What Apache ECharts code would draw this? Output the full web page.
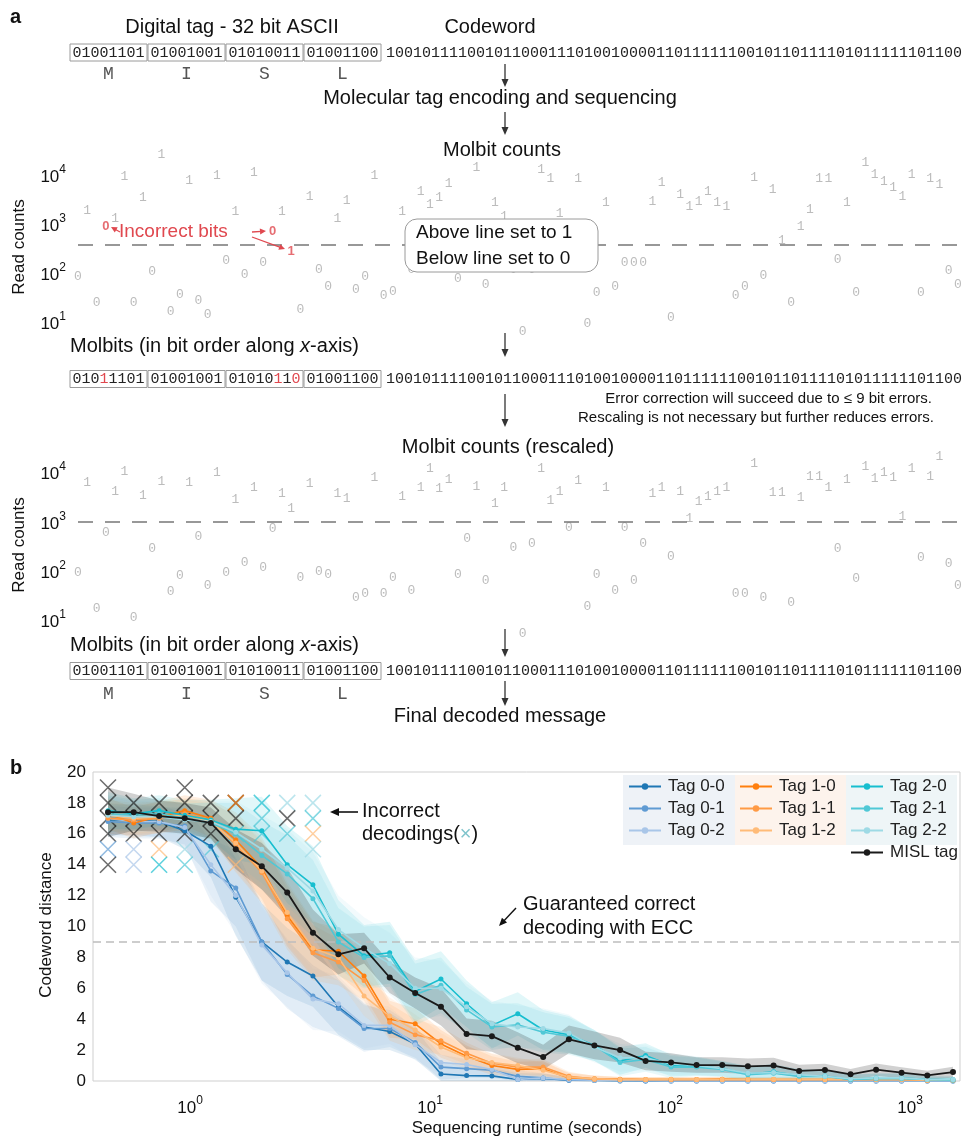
<!DOCTYPE html>
<html><head><meta charset="utf-8">
<script src="https://cdn.jsdelivr.net/npm/echarts@6/dist/echarts.min.js"></script>
<style>html,body{margin:0;padding:0;background:#fff}#c{width:967px;height:1138px}</style>
</head><body><div id="c"></div><script>
// ---------------- DATA ----------------
const tagBytes = ['01001101','01001001','01010011','01001100'];
const tagLetters = ['M','I','S','L'];
const codewordBits = '1001011110010110001110100100001101111110010110111101011111101100';
const threshold1 = 375;
const threshold2 = 1000;
const rawCounts = [83,1840,25,910,1320,9100,25,3400,105,25700,16,37,7550,28,14,9550,
  176,1760,91,11000,167,690,1760,270,18,3550,120,54,1320,2950,47,83,
  9550,34,41,1760,115,4500,2450,3400,6560,76,340,13900,57,2700,1390,115,
  6.3,115,12700,8280,1670,270,8280,9.5,39,2700,54,167,167,167,2820,6880,
  12.6,3900,2230,2820,4500,2700,2230,34,54,8700,87,5150,470,25,870,1930,
  8280,8280,185,2700,39,17600,10000,7200,5430,3550,10000,39,8280,6250,110,57];
const rescaledCounts = [93,6030,17,600,4070,10000,11,3390,275,6310,37,78,6030,480,51,9550,
  93,2820,148,4790,117,720,3720,1780,74,5750,98,85,3720,2950,28,34,
  7590,34,71,3240,39,4790,11500,4570,6920,85,440,5010,62,2240,4790,300,
  5.4,350,12000,2690,4070,760,6610,19,85,4790,39,760,62,350,3720,4790,
  190,4070,1120,2570,3240,4070,4790,34,35,14500,28,3890,3890,23,3090,7940,
  7940,4790,275,6920,68,12600,7240,9550,7590,1230,12000,182,7940,20900,141,49];

const runtime = [0.455,0.582,0.743,0.95,1.22,1.55,1.99,2.54,3.25,4.15,5.31,6.79,8.67,11.1,14.2,18.1,
  23.2,29.6,37.9,48.4,61.9,79.1,101,129,165,211,270,345,442,565,722,922,1180,1510];
const tagNames = ['Tag 0-0','Tag 0-1','Tag 0-2','Tag 1-0','Tag 1-1','Tag 1-2','Tag 2-0','Tag 2-1','Tag 2-2','MISL tag'];
const tag00 = [16.9,16.9,16.8,16.2,15.2,11.9,9.0,7.7,6.8,4.8,3.5,3.2,2.4,0.45,0.35,0.33,0.1,0.17,0.05,0.03,0,0,0,0,0,0,0,0,0,0,0,0,0,0];
const tag01 = [16.8,16.7,16.7,16.5,13.6,12.5,9.0,6.9,5.5,4.7,3.4,3.4,2.5,0.9,0.8,0.7,0.3,0.2,0.05,0.05,0.03,0,0,0,0,0,0,0,0,0,0,0,0,0];
const tag02 = [17.0,16.8,16.8,16.4,14.0,12.0,8.8,7.0,5.3,5.0,3.6,3.6,2.35,1.2,1.07,0.75,0.1,0.2,0.1,0.05,0.03,0.03,0,0,0,0,0,0,0,0,0,0,0,0];
const tag10 = [17.3,16.7,17.1,17.5,17.0,15.6,13.8,10.7,8.5,8.4,6.8,4.0,3.7,2.4,1.6,1.0,0.75,0.8,0.2,0.15,0.12,0.1,0.1,0.1,0.12,0.1,0.1,0.1,0.1,0.1,0.1,0.1,0.05,0.05];
const tag11 = [17.0,16.9,17.0,17.3,16.9,15.3,13.5,10.5,8.3,7.7,6.5,3.8,3.0,2.6,1.8,1.15,0.9,0.9,0.3,0.12,0.1,0.1,0.1,0.1,0.1,0.1,0.1,0.1,0.1,0.1,0.1,0.1,0.05,0.05];
const tag12 = [17.2,17.0,17.1,17.2,16.8,15.4,13.6,10.9,8.6,8.0,5.5,4.2,3.3,2.2,1.5,1.2,1.0,0.7,0.25,0.15,0.1,0.1,0.12,0.1,0.1,0.1,0.12,0.1,0.1,0.1,0.1,0.1,0.05,0.05];
const tag20 = [17.5,17.3,17.5,17.2,16.9,16.3,16.2,14.0,12.7,9.5,8.1,8.3,5.8,6.6,5.0,3.6,4.35,3.3,3.0,2.3,1.3,1.65,1.0,0.96,0.8,0.45,0.6,0.36,0.32,0.1,0.2,0.2,0.1,0.1];
const tag21 = [17.3,17.2,17.3,17.0,16.7,16.0,14.6,13.4,11.8,9.0,8.0,8.1,5.6,6.2,4.6,3.5,3.64,3.15,2.9,2.3,1.2,1.4,0.9,0.9,0.75,0.4,0.5,0.3,0.3,0.1,0.15,0.15,0.1,0.05];
const tag22 = [17.2,17.1,17.1,16.9,16.8,16.1,15.0,13.8,12.3,9.8,8.6,7.6,6.0,6.0,4.8,3.7,3.5,3.4,3.1,2.2,1.5,1.5,1.1,1.0,0.8,0.5,0.55,0.4,0.3,0.15,0.2,0.2,0.1,0.1];
const mislTag = [17.4,17.4,17.15,17.0,16.7,15.0,13.9,12.2,9.6,8.2,8.6,6.7,5.7,4.8,3.05,2.9,2.15,1.55,2.7,2.3,2.0,1.3,1.2,1.03,1.03,0.95,1.0,0.65,0.72,0.43,0.73,0.54,0.36,0.58];
const spreadBlue = [1.0,1.0,1.0,1.2,2.0,2.5,2.5,2.2,2.0,1.8,1.5,1.2,1.0,0.8,0.6,0.5,0.4,0.3,0.2,0.15,0.1,0.1,0.1,0.1,0.1,0.1,0.1,0.1,0.1,0.1,0.1,0.1,0.1,0.1];
const spreadOrange = [1.0,1.0,1.0,1.0,1.2,1.8,2.0,2.0,1.8,1.5,1.3,1.2,1.0,0.9,0.7,0.6,0.5,0.5,0.3,0.2,0.15,0.15,0.15,0.15,0.15,0.15,0.15,0.15,0.15,0.15,0.15,0.15,0.1,0.1];
const spreadCyan = [1.2,1.0,1.0,1.0,1.3,2.0,2.2,2.5,2.5,2.2,2.0,2.0,2.0,1.8,1.5,1.5,1.4,1.3,1.2,1.0,0.9,0.8,0.7,0.6,0.5,0.5,0.5,0.4,0.4,0.3,0.3,0.3,0.2,0.2];
const spreadBlack = [1.6,1.2,1.0,1.0,1.0,1.3,1.5,1.6,1.5,1.3,1.0,1.0,1.0,1.2,1.0,1.0,1.0,0.8,0.9,0.9,0.8,0.6,0.6,0.5,0.5,0.5,0.5,0.4,0.4,0.35,0.4,0.35,0.3,0.35];
// incorrect decodings: runtime index, codeword distance, tag
const wrongRunIdx = [0,0,0,0,0,0, 1,1,1,1,1, 2,2,2,2,2, 3,3,3,3,3,3, 4,4,4,4, 5,5,5,5,5, 6,6,6, 7,7,7, 8,8,8,8];
const wrongDist   = [19,18,17,16,15,14, 18,17,16,15,14, 18,17,16,15,14, 19,18,17,16,15,14, 18,17,16,15, 18,18,17,16,14, 18,17,16, 18,17,16, 18,17,16,15];
const wrongTag = ['MISL tag','MISL tag','MISL tag','MISL tag','Tag 0-1','MISL tag',
  'MISL tag','MISL tag','MISL tag','Tag 0-2','Tag 0-2',
  'MISL tag','MISL tag','MISL tag','Tag 1-2','Tag 2-0',
  'MISL tag','MISL tag','MISL tag','MISL tag','Tag 2-2','Tag 2-1',
  'MISL tag','MISL tag','MISL tag','Tag 2-1',
  'MISL tag','Tag 1-0','MISL tag','Tag 2-1','Tag 1-2',
  'Tag 2-0','Tag 2-1','Tag 2-1',
  'Tag 2-2','MISL tag','Tag 2-1',
  'Tag 2-2','Tag 2-1','Tag 1-2','Tag 2-2'];

// ---------------- STYLE ----------------
const SANS = 'Liberation Sans';
const MONO = 'Liberation Mono';
const RED = '#e0484f';
const colors = {'Tag 0-0':'#1f77b4','Tag 0-1':'#5f9bd3','Tag 0-2':'#a9c6e8','Tag 1-0':'#ff7f0e','Tag 1-1':'#ff9a45','Tag 1-2':'#ffbb78',
  'Tag 2-0':'#17becf','Tag 2-1':'#4fc8d6','Tag 2-2':'#9edae5','MISL tag':'#1a1a1a'};
const seriesVals = [tag00,tag01,tag02,tag10,tag11,tag12,tag20,tag21,tag22,mislTag];
const spreads = [spreadBlue,spreadBlue,spreadBlue,spreadOrange,spreadOrange,spreadOrange,spreadCyan,spreadCyan,spreadCyan,spreadBlack];

const allBits = tagBytes.join('') + codewordBits;
const readBits = rawCounts.map(c => c >= threshold1 ? '1' : '0');

// ---------------- GRAPHIC HELPERS ----------------
const G = [];
function T(x, y, text, o) {
  o = o || {};
  const st = Object.assign({text: text, fontSize: 19, fontFamily: SANS, fill: '#111',
    textAlign: 'left', align: 'left', textVerticalAlign: 'middle', verticalAlign: 'middle'}, o.style || {});
  if (o.align) { st.textAlign = o.align; st.align = o.align; }
  const el = {type: 'text', x: x, y: y, style: st, z: 50};
  if (o.rotation) el.rotation = o.rotation;
  G.push(el);
}
function arrow(x1, y1, x2, y2, color, h, w, lw) {
  color = color || '#333'; h = h || 8; w = w || 3.5; lw = lw || 1.3;
  const a = Math.atan2(y2 - y1, x2 - x1), c = Math.cos(a), s = Math.sin(a);
  G.push({type: 'line', z: 50, shape: {x1: x1, y1: y1, x2: x2 - c * h * 0.7, y2: y2 - s * h * 0.7}, style: {stroke: color, lineWidth: lw}});
  G.push({type: 'polygon', z: 50, shape: {points: [[x2, y2], [x2 - h * c + w * s, y2 - h * s - w * c], [x2 - h * c - w * s, y2 - h * s + w * c]]}, style: {fill: color}});
}
const boxX = [70, 148, 226, 304], boxW = 77, boxH = 17;
function codeRow(cy, bytesRich) {
  for (let b = 0; b < 4; b++) {
    G.push({type: 'rect', z: 50, shape: {x: boxX[b], y: cy - boxH / 2, width: boxW, height: boxH},
      style: {fill: '#fff', stroke: '#9a9a9a', lineWidth: 1}});
    G.push({type: 'text', z: 51, x: boxX[b] + boxW / 2, y: cy + 0.5, style: {text: bytesRich[b], fontSize: 15, fontFamily: MONO,
      fill: '#222', textAlign: 'center', align: 'center', textVerticalAlign: 'middle', verticalAlign: 'middle',
      rich: {k: {fill: '#222', color: '#222', fontSize: 15, fontFamily: MONO}, r: {fill: RED, color: RED, fontSize: 15, fontFamily: MONO}}}});
  }
  T(386, cy + 0.5, codewordBits, {style: {fontSize: 15, fontFamily: MONO, fill: '#222'}});
}
function letters(cy) {
  for (let b = 0; b < 4; b++) T(boxX[b] + boxW / 2, cy, tagLetters[b], {align: 'center', style: {fontSize: 18, fontFamily: MONO, fill: '#555'}});
}
function richByte(bits, ref) {
  let s = '';
  for (let i = 0; i < bits.length; i++) s += (ref && bits[i] !== ref[i] ? '{r|' : '{k|') + bits[i] + '}';
  return s;
}

// ---- panel a texts ----
T(10, 17, 'a', {style: {fontSize: 20, fontWeight: 'bold'}});
T(232, 27, 'Digital tag - 32 bit ASCII', {align: 'center', style: {fontSize: 20}});
T(490, 27, 'Codeword', {align: 'center', style: {fontSize: 20}});
codeRow(52.5, tagBytes.map(b => richByte(b)));
letters(74);
arrow(505, 64, 505, 87, '#333', 8, 3.5);
T(500, 98, 'Molecular tag encoding and sequencing', {align: 'center', style: {fontSize: 20}});
arrow(505, 112, 505, 135, '#333', 8, 3.5);
T(502, 150, 'Molbit counts', {align: 'center', style: {fontSize: 20}});
T(19, 247, 'Read counts', {align: 'center', rotation: Math.PI / 2, style: {fontSize: 17}});
// red annotation
T(119, 232, 'Incorrect bits', {style: {fontSize: 19, fill: RED}});
arrow(120, 232, 111, 227, RED, 6, 3, 1.3);
arrow(252, 232, 266, 231, RED, 6, 3, 1.3);
arrow(252, 237, 285, 249, RED, 6, 3, 1.3);
G.push({type: 'rect', z: 49, shape: {x: 405, y: 219, width: 193, height: 53, r: 12}, style: {fill: '#fff', stroke: '#9a9a9a', lineWidth: 1}});
T(416, 233, 'Above line set to 1', {style: {fontSize: 19}});
T(416, 259, 'Below line set to 0', {style: {fontSize: 19}});
const molbitsRich = {n: {fontSize: 20, fontFamily: SANS, fill: '#111', color: '#111'}, i: {fontSize: 20, fontFamily: SANS, fontStyle: 'italic', fill: '#111', color: '#111'}};
T(70, 346, '{n|Molbits (in bit order along }{i|x}{n|-axis)}', {style: {rich: molbitsRich}});
arrow(505, 333, 505, 357, '#333', 8, 3.5);
const readStr = readBits.join('');
codeRow(379, [0, 1, 2, 3].map(b => richByte(readStr.substr(b * 8, 8), tagBytes[b])));
T(932, 399, 'Error correction will succeed due to \u2264 9 bit errors.', {align: 'right', style: {fontSize: 15}});
T(934, 418, 'Rescaling is not necessary but further reduces errors.', {align: 'right', style: {fontSize: 15}});
arrow(505, 394, 505, 427, '#333', 8, 3.5);
T(508, 447, 'Molbit counts (rescaled)', {align: 'center', style: {fontSize: 20}});
T(19, 545, 'Read counts', {align: 'center', rotation: Math.PI / 2, style: {fontSize: 17}});
T(70, 645, '{n|Molbits (in bit order along }{i|x}{n|-axis)}', {style: {rich: molbitsRich}});
arrow(505, 629, 505, 657, '#333', 8, 3.5);
codeRow(671, tagBytes.map(b => richByte(b)));
letters(694);
arrow(505, 681, 505, 706, '#333', 8, 3.5);
T(500, 716, 'Final decoded message', {align: 'center', style: {fontSize: 20}});

// ---- panel b texts ----
T(10, 768, 'b', {style: {fontSize: 20, fontWeight: 'bold'}});
T(46, 925, 'Codeword distance', {align: 'center', rotation: Math.PI / 2, style: {fontSize: 17}});
T(527, 1128, 'Sequencing runtime (seconds)', {align: 'center', style: {fontSize: 17}});
T(362, 811, 'Incorrect', {style: {fontSize: 20}});
T(362, 834, '{n|decodings(}{x|\u00d7}{n|)}', {style: {rich: {n: {fontSize: 20, fontFamily: SANS, fill: '#111', color: '#111'}, x: {fontSize: 20, fontFamily: SANS, fill: '#7fc4cc', color: '#7fc4cc'}}}});
arrow(358, 812, 330, 812, '#111', 9, 4, 1.6);
T(523, 904, 'Guaranteed correct', {style: {fontSize: 20}});
T(523, 928, 'decoding with ECC', {style: {fontSize: 20}});
arrow(516, 908, 499, 926, '#111', 8, 3.5, 1.4);
// legend tints
G.push({type: 'rect', z: -10, shape: {x: 623, y: 775, width: 112, height: 70}, style: {fill: '#eef2f7'}});
G.push({type: 'rect', z: -10, shape: {x: 735, y: 775, width: 111, height: 70}, style: {fill: '#fdf3ec'}});
G.push({type: 'rect', z: -10, shape: {x: 846, y: 775, width: 111, height: 70}, style: {fill: '#eef5f7'}});

// ---------------- AXES / SERIES ----------------
function powLabel(v) {
  const l = Math.log10(v), e = Math.round(l);
  if (Math.abs(l - e) > 1e-6) return '';
  return '{b|10}{s|' + e + '}';
}
const powRich = {b: {fontSize: 17, fontFamily: SANS, color: '#111', lineHeight: 22, verticalAlign: 'bottom'},
  s: {fontSize: 12, fontFamily: SANS, color: '#111', lineHeight: 22, verticalAlign: 'top'}};

function countAxis(g) {
  return {type: 'log', logBase: 10, gridIndex: g, min: 10, max: 10000,
    axisLine: {show: false}, axisTick: {show: false}, splitLine: {show: false},
    axisLabel: {margin: 12, formatter: powLabel, rich: powRich}};
}

const series = [];
function bitScatter(g, counts, thr, markErrors) {
  series.push({
    type: 'scatter', xAxisIndex: g, yAxisIndex: g, clip: false, silent: true,
    symbolSize: 2, itemStyle: {color: 'rgba(255,255,255,0)'}, z: 3,
    data: counts.map((c, i) => {
      const err = markErrors && ((c >= thr ? '1' : '0') !== allBits[i]);
      const d = {value: [i, c]};
      if (err) d.label = {color: RED, fontWeight: 'bold', fontFamily: SANS, fontSize: 13};
      return d;
    }),
    label: {show: true, position: 'inside', formatter: p => allBits[p.dataIndex], color: '#ababab', fontSize: 13, fontFamily: MONO},
    labelLayout: {hideOverlap: false},
    markLine: {silent: true, symbol: 'none', label: {show: false},
      lineStyle: {color: '#777', width: 1.5, type: [15, 12]}, data: [{yAxis: thr}]}
  });
}
bitScatter(0, rawCounts, threshold1, true);
bitScatter(1, rescaledCounts, threshold2, false);

// bands
seriesVals.forEach((vals, si) => {
  const sp = spreads[si], col = colors[tagNames[si]];
  series.push({
    type: 'custom', xAxisIndex: 2, yAxisIndex: 2, silent: true, z: 1, clip: true,
    data: [[runtime[0], vals[0]]],
    renderItem: (params, api) => {
      const up = [], lo = [];
      for (let i = 0; i < runtime.length; i++) {
        up.push(api.coord([runtime[i], vals[i] + sp[i]]));
        lo.push(api.coord([runtime[i], Math.max(0, vals[i] - sp[i])]));
      }
      return {type: 'polygon', shape: {points: up.concat(lo.reverse())},
        style: {fill: col, opacity: si === 9 ? 0.2 : 0.13}};
    }
  });
});
// incorrect decodings
series.push({
  type: 'scatter', xAxisIndex: 2, yAxisIndex: 2, silent: true, z: 2,
  symbol: 'path://M0,0L10,10M10,0L0,10', symbolSize: 16,
  data: wrongRunIdx.map((k, i) => ({value: [runtime[k], wrongDist[i]],
    itemStyle: {color: 'rgba(0,0,0,0)', borderColor: colors[wrongTag[i]], borderWidth: 1.5, opacity: wrongTag[i] === 'MISL tag' ? 0.65 : 0.7}}))
});
// lines
seriesVals.forEach((vals, si) => {
  const name = tagNames[si], col = colors[name];
  series.push({
    name: name, type: 'line', xAxisIndex: 2, yAxisIndex: 2, z: si === 9 ? 6 : 5,
    data: vals.map((v, i) => [runtime[i], v]),
    symbol: 'circle', symbolSize: si === 9 ? 6 : 5, showSymbol: true,
    lineStyle: {color: col, width: si === 9 ? 1.8 : 1.6}, itemStyle: {color: col},
    emphasis: {disabled: true}, silent: true
  });
});

function legendCol(names, left) {
  return {data: names, left: left, top: 778, orient: 'vertical', itemWidth: 32, itemHeight: 8, itemGap: 5,
    selectedMode: false, textStyle: {fontSize: 17, fontFamily: SANS, color: '#222', padding: [0, 0, 0, 2]}, padding: 0};
}

const option = {
  animation: false,
  textStyle: {fontFamily: SANS},
  grid: [
    {left: 78, width: 880, top: 175, height: 147},
    {left: 78, width: 880, top: 472, height: 148},
    {left: 93, width: 867, top: 772, height: 309, show: true, borderColor: '#cfcfcf', borderWidth: 1, backgroundColor: 'transparent'}
  ],
  xAxis: [
    {type: 'value', gridIndex: 0, min: 0, max: 95, show: false},
    {type: 'value', gridIndex: 1, min: 0, max: 95, show: false},
    {type: 'log', logBase: 10, gridIndex: 2, min: 0.394, max: 1615,
      axisLine: {show: false}, axisTick: {show: false}, splitLine: {show: false},
      axisLabel: {margin: 14, formatter: powLabel, rich: powRich, showMinLabel: false, showMaxLabel: false}}
  ],
  yAxis: [
    countAxis(0), countAxis(1),
    {type: 'value', gridIndex: 2, min: 0, max: 20, interval: 2,
      axisLine: {show: false}, axisTick: {show: false}, splitLine: {show: false},
      axisLabel: {margin: 7, fontSize: 17, color: '#111', fontFamily: SANS}}
  ],
  legend: [
    legendCol(['Tag 0-0', 'Tag 0-1', 'Tag 0-2'], 628),
    legendCol(['Tag 1-0', 'Tag 1-1', 'Tag 1-2'], 739),
    legendCol(['Tag 2-0', 'Tag 2-1', 'Tag 2-2', 'MISL tag'], 850)
  ],
  graphic: {elements: G},
  series: series
};
// guaranteed-correct threshold line
series.push({type: 'line', xAxisIndex: 2, yAxisIndex: 2, data: [], silent: true,
  markLine: {silent: true, symbol: 'none', label: {show: false}, lineStyle: {color: '#bdbdbd', width: 1.5, type: [8, 5]}, data: [{yAxis: 9}]}});

const chart = echarts.init(document.getElementById('c'), null, {renderer: 'canvas'});
chart.setOption(option);
</script></body></html>
